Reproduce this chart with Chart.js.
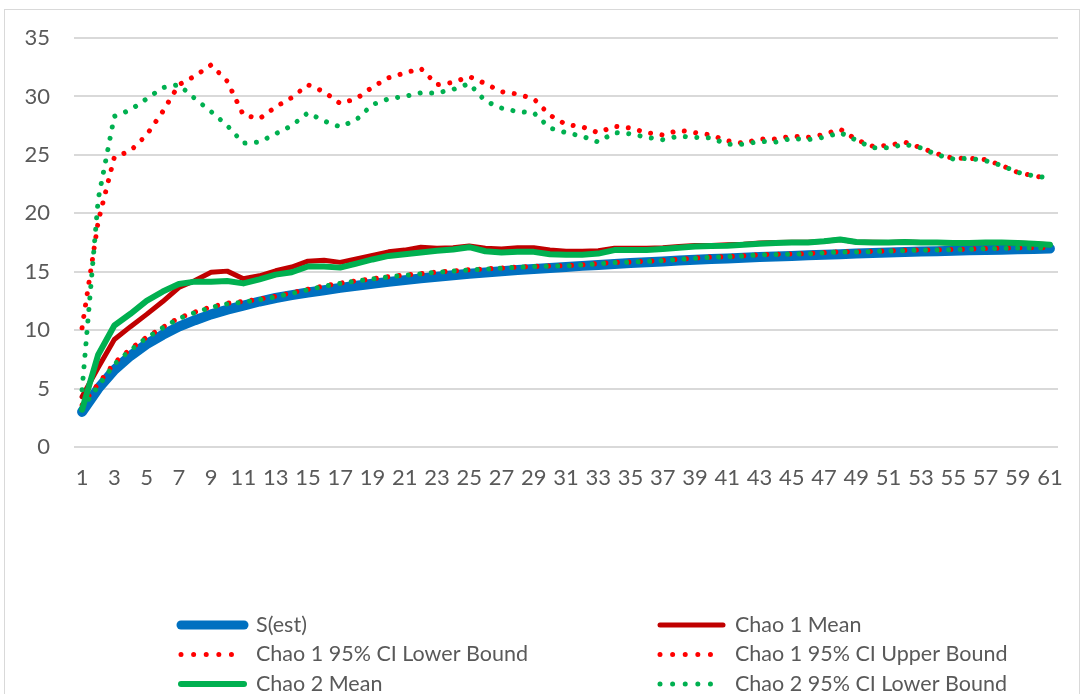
<!DOCTYPE html>
<html>
<head>
<meta charset="utf-8">
<title>Species richness estimators</title>
<script src="https://cdn.jsdelivr.net/npm/chart.js@4.4.0/dist/chart.umd.min.js"></script>
<style>
  html, body { margin: 0; padding: 0; background: #ffffff; overflow: hidden; }
  canvas { display: block; }
</style>
</head>
<body>
<canvas id="chart" width="1081" height="694"></canvas>
<script>
// Sample number (x axis)
const categories = [1,2,3,4,5,6,7,8,9,10,11,12,13,14,15,16,17,18,19,20,
  21,22,23,24,25,26,27,28,29,30,31,32,33,34,35,36,37,38,39,40,
  41,42,43,44,45,46,47,48,49,50,51,52,53,54,55,56,57,58,59,60,61];

// Y axis range and step
const yMin = 0, yMax = 35, yStep = 5;

// Observed richness S(est)
const sEst = [3.0,5.0,6.6,7.8,8.8,9.6,10.3,10.85,11.35,11.75,
  12.1,12.45,12.75,13.0,13.22,13.42,13.62,13.8,13.97,14.13,
  14.28,14.43,14.57,14.7,14.82,14.93,15.04,15.14,15.23,15.32,
  15.41,15.5,15.58,15.66,15.74,15.81,15.88,15.95,16.02,16.08,
  16.14,16.2,16.25,16.3,16.35,16.4,16.45,16.5,16.55,16.6,
  16.64,16.68,16.72,16.76,16.8,16.83,16.86,16.89,16.92,16.95,16.98];

// Chao 1 estimator
const chao1Mean = [4.3,6.8,9.2,10.3,11.35,12.45,13.65,14.25,14.95,15.05,
  14.4,14.65,15.08,15.4,15.9,15.98,15.8,16.1,16.4,16.7,
  16.85,17.1,17.0,17.05,17.2,17.0,16.95,17.05,17.05,16.85,
  16.75,16.75,16.8,17.0,17.0,17.0,17.05,17.15,17.25,17.25,
  17.3,17.35,17.45,17.5,17.52,17.52,17.6,17.75,17.55,17.52,
  17.5,17.55,17.5,17.5,17.45,17.45,17.5,17.5,17.45,17.4,17.3];

const chao1Lower = [3.6,5.4,7.2,8.4,9.4,10.25,11.05,11.55,12.0,12.3,
  12.45,12.65,12.9,13.2,13.5,13.78,14.02,14.22,14.4,14.57,
  14.72,14.84,14.97,15.07,15.17,15.24,15.32,15.4,15.46,15.49,
  15.52,15.6,15.7,15.8,15.84,15.9,15.97,16.07,16.17,16.26,
  16.3,16.37,16.46,16.5,16.52,16.55,16.64,16.71,16.71,16.74,
  16.79,16.83,16.86,16.88,16.9,16.94,16.99,17.02,17.04,17.05,17.07];

const chao1Upper = [10.2,19.3,24.8,25.35,26.7,28.7,31.0,31.75,32.7,31.3,
  28.4,28.1,29.1,29.9,31.0,30.4,29.4,29.8,30.8,31.6,
  32.0,32.4,31.0,31.2,31.7,31.1,30.4,30.2,29.8,28.4,
  27.6,27.4,26.9,27.45,27.3,26.9,26.7,27.1,26.9,26.7,
  26.2,26.0,26.35,26.35,26.6,26.5,26.75,27.2,26.3,25.75,
  25.8,26.1,25.6,25.1,24.7,24.7,24.6,24.1,23.5,23.2,22.95];

// Chao 2 estimator
const chao2Mean = [3.2,7.9,10.4,11.4,12.5,13.3,13.95,14.15,14.15,14.2,
  14.0,14.35,14.75,14.95,15.45,15.45,15.35,15.7,16.05,16.35,
  16.5,16.65,16.8,16.9,17.1,16.75,16.65,16.7,16.7,16.5,
  16.45,16.45,16.55,16.85,16.85,16.85,16.95,17.05,17.15,17.2,
  17.22,17.3,17.4,17.45,17.5,17.5,17.6,17.75,17.55,17.5,
  17.5,17.55,17.5,17.5,17.45,17.45,17.5,17.5,17.45,17.4,17.3];

const chao2Lower = [3.3,5.2,7.1,8.3,9.35,10.2,11.0,11.5,11.95,12.25,
  12.4,12.6,12.85,13.15,13.45,13.75,14.0,14.2,14.38,14.55,
  14.7,14.82,14.95,15.05,15.15,15.22,15.3,15.38,15.44,15.47,
  15.5,15.58,15.68,15.78,15.82,15.88,15.95,16.05,16.15,16.24,
  16.28,16.35,16.44,16.48,16.5,16.53,16.62,16.69,16.69,16.72,
  16.77,16.81,16.84,16.86,16.88,16.92,16.97,17.0,17.02,17.03,17.05];

const chao2Upper = [4.9,21.2,28.3,28.85,29.8,30.75,31.0,29.8,28.7,27.5,
  26.0,26.1,26.8,27.5,28.6,27.9,27.4,28.0,29.3,29.8,
  30.0,30.3,30.3,30.6,31.1,29.6,29.0,28.7,28.6,27.3,
  26.9,26.6,26.1,26.9,26.8,26.5,26.3,26.6,26.5,26.45,
  25.9,25.9,26.15,26.1,26.4,26.3,26.5,26.9,26.25,25.6,
  25.6,25.9,25.6,25.0,24.65,24.7,24.5,24.1,23.5,23.2,23.0];

const FONT = "Lato, 'Open Sans', sans-serif";
const AXIS_FONT_SIZE = 22;
const LEGEND_FONT_SIZE = 21.5;
const TEXT_COLOR = '#595959';
const GRID_COLOR = '#d9d9d9';
const DOTS = [0.01, 11.5];

function series(label, data, color, width, dash, legendWidth) {
  return {
    label, data,
    borderColor: color,
    backgroundColor: color,
    borderWidth: width,
    borderDash: dash || [],
    borderCapStyle: 'round',
    borderJoinStyle: 'round',
    legendWidth: legendWidth || width,
    pointRadius: 0,
    pointHoverRadius: 0,
    tension: 0,
    fill: false
  };
}

const datasets = [
  series('S(est)', sEst, '#0070C0', 10, null, 9),
  series('Chao 1 Mean', chao1Mean, '#C00000', 5, null, 5),
  series('Chao 1 95% CI Lower Bound', chao1Lower, '#FF0000', 5, DOTS, 5),
  series('Chao 1 95% CI Upper Bound', chao1Upper, '#FF0000', 5, DOTS, 5),
  series('Chao 2 Mean', chao2Mean, '#00B050', 6, null, 6),
  series('Chao 2 95% CI Lower Bound', chao2Lower, '#00B050', 5, DOTS, 5),
  series('Chao 2 95% CI Upper Bound', chao2Upper, '#00B050', 5, DOTS, 5)
];
// later series are painted over earlier ones
datasets.forEach((d, i) => { d.order = datasets.length - i; });

// white page with a thin frame around the chart
const framePlugin = {
  id: 'frame',
  beforeDraw(chart) {
    const ctx = chart.ctx;
    ctx.save();
    ctx.fillStyle = '#ffffff';
    ctx.fillRect(0, 0, chart.width, chart.height);
    ctx.strokeStyle = GRID_COLOR;
    ctx.lineWidth = 1;
    ctx.strokeRect(4.5, 9.5, 1075, 720);
    ctx.restore();
  }
};

// two-column legend under the plot
const columnLegend = {
  id: 'columnLegend',
  afterDraw(chart, args, opts) {
    const ctx = chart.ctx;
    ctx.save();
    ctx.font = opts.fontSize + 'px ' + FONT;
    ctx.textBaseline = 'middle';
    ctx.textAlign = 'left';
    chart.data.datasets.forEach((d, i) => {
      const col = i % 2;
      const row = Math.floor(i / 2);
      const x = opts.columns[col];
      const y = opts.top + row * opts.rowGap;
      if (y - opts.fontSize / 2 > chart.height) return;
      ctx.save();
      ctx.strokeStyle = d.borderColor;
      ctx.lineWidth = d.legendWidth;
      ctx.lineCap = 'round';
      ctx.setLineDash(d.borderDash && d.borderDash.length ? [0.01, 12.6] : []);
      ctx.beginPath();
      ctx.moveTo(x, y);
      ctx.lineTo(x + opts.lineLength, y);
      ctx.stroke();
      ctx.restore();
      ctx.fillStyle = TEXT_COLOR;
      ctx.fillText(d.label, x + opts.textOffset, y);
    });
    ctx.restore();
  }
};

new Chart(document.getElementById('chart'), {
  type: 'line',
  data: { labels: categories, datasets },
  plugins: [framePlugin, columnLegend],
  options: {
    responsive: false,
    animation: false,
    devicePixelRatio: 1,
    layout: { padding: { top: 38, right: 23, bottom: 0, left: 0 } },
    plugins: {
      legend: { display: false },
      tooltip: { enabled: false },
      columnLegend: {
        columns: [181, 660],
        top: 625,
        rowGap: 29.5,
        lineLength: 63,
        textOffset: 75,
        fontSize: LEGEND_FONT_SIZE
      }
    },
    scales: {
      x: {
        type: 'category',
        offset: true,
        grid: { display: false, drawTicks: false },
        border: { display: false },
        ticks: {
          autoSkip: false,
          maxRotation: 0,
          padding: 18,
          color: TEXT_COLOR,
          font: { family: FONT, size: AXIS_FONT_SIZE },
          callback: function (value, index) {
            return index % 2 === 0 ? this.getLabelForValue(value) : '';
          }
        },
        afterFit(scale) { scale.height = 247; }
      },
      y: {
        min: yMin,
        max: yMax,
        grid: { color: GRID_COLOR, lineWidth: 2, drawTicks: false },
        border: { display: false },
        ticks: {
          stepSize: yStep,
          padding: 24,
          color: TEXT_COLOR,
          font: { family: FONT, size: AXIS_FONT_SIZE }
        },
        afterFit(scale) { scale.width = 74; }
      }
    }
  }
});
</script>
</body>
</html>
